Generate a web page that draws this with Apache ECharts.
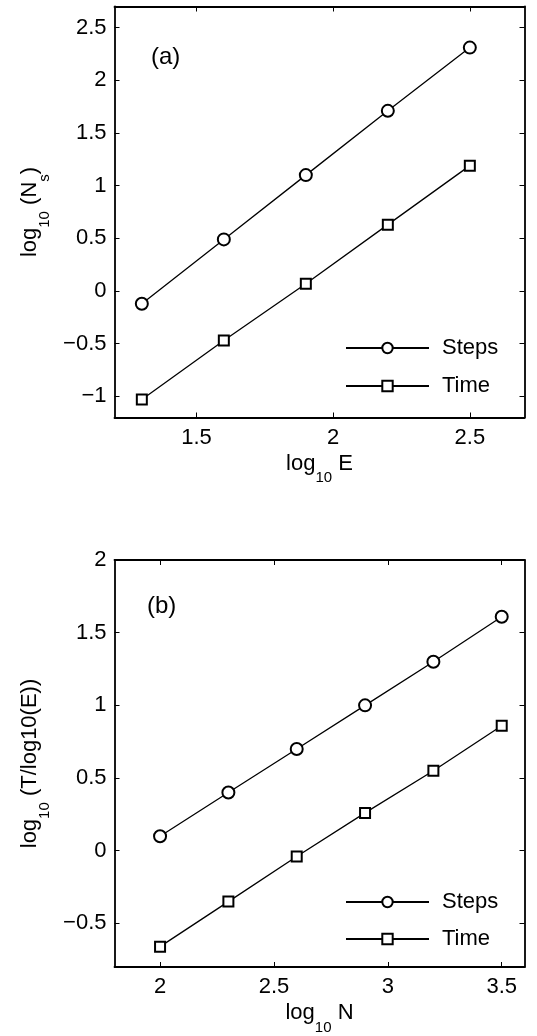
<!DOCTYPE html>
<html><head><meta charset="utf-8">
<script src="https://cdn.jsdelivr.net/npm/echarts@6/dist/echarts.min.js"></script>
<style>html,body{margin:0;padding:0;background:#fff}#c{width:537px;height:1036px}</style>
</head><body><div id="c"></div>
<script>
// Panel (a)
const xA = [1.3, 1.6, 1.9, 2.2, 2.5];
const stepsA = [-0.12, 0.49, 1.10, 1.71, 2.31];
const timeA = [-1.03, -0.47, 0.07, 0.63, 1.19];
const xTicksA = [1.5, 2, 2.5];
const yTicksA = [-1, -0.5, 0, 0.5, 1, 1.5, 2, 2.5];
// Panel (b)
const xB = [2.0, 2.3, 2.6, 2.9, 3.2, 3.5];
const stepsB = [0.10, 0.40, 0.70, 1.00, 1.30, 1.61];
const timeB = [-0.66, -0.35, -0.04, 0.26, 0.55, 0.86];
const xTicksB = [2, 2.5, 3, 3.5];
const yTicksB = [-0.5, 0, 0.5, 1, 1.5, 2];
const seriesNames = ['Steps', 'Time'];

const FONT = 'Liberation Sans, Arial, Helvetica, sans-serif';
const FS = 22;
const rich = {
  n: {fontSize: FS, fontFamily: FONT, color: '#000', lineHeight: 44},
  s: {fontSize: 15, fontFamily: FONT, color: '#000', lineHeight: 15, verticalAlign: 'bottom'}
};
const fmt = v => String(v).replace('-', '\u2212');
const lineAx = {show: true, onZero: false, lineStyle: {color: '#000', width: 1.8}};
const tickStyle = {color: '#000', width: 1};

function xAxes(grid, min, max, ticks, name) {
  return [
    {type: 'value', gridIndex: grid, position: 'bottom', min, max,
     axisLine: lineAx, splitLine: {show: false},
     axisTick: {show: true, inside: true, length: 5, customValues: ticks, lineStyle: tickStyle},
     axisLabel: {show: true, customValues: ticks, formatter: fmt, margin: 9, color: '#000', fontSize: FS, fontFamily: FONT},
     name, nameLocation: 'middle', nameGap: 24, nameTextStyle: {rich}},
    {type: 'value', gridIndex: grid, position: 'top', min, max,
     axisLine: lineAx, splitLine: {show: false},
     axisTick: {show: true, inside: true, length: 5, customValues: ticks, lineStyle: tickStyle},
     axisLabel: {show: false}}
  ];
}
function yAxes(grid, min, max, ticks, name) {
  return [
    {type: 'value', gridIndex: grid, position: 'left', min, max,
     axisLine: lineAx, splitLine: {show: false},
     axisTick: {show: true, inside: true, length: 5, customValues: ticks, lineStyle: tickStyle},
     axisLabel: {show: true, customValues: ticks, formatter: fmt, margin: 8, color: '#000', fontSize: FS, fontFamily: FONT},
     name, nameLocation: 'middle', nameGap: 62, nameTextStyle: {rich}},
    {type: 'value', gridIndex: grid, position: 'right', min, max,
     axisLine: lineAx, splitLine: {show: false},
     axisTick: {show: true, inside: true, length: 5, customValues: ticks, lineStyle: tickStyle},
     axisLabel: {show: false}}
  ];
}

function mkSeries(name, xs, ys, xi, yi, sym, size) {
  return {
    type: 'line', name, xAxisIndex: xi, yAxisIndex: yi,
    data: xs.map((x, i) => [x, ys[i]]),
    symbol: sym, symbolSize: size, showAllSymbol: true,
    lineStyle: {color: '#000', width: 1.3},
    itemStyle: {color: '#000', borderColor: '#000', borderWidth: 1.4},
    animation: false
  };
}

function mkLegend(name, top) {
  return {
    data: [name], left: 345, top, orient: 'vertical', padding: 0,
    itemWidth: 83, itemHeight: 13, selectedMode: false,
    textStyle: {fontSize: FS, fontFamily: FONT, color: '#000', lineHeight: 22, padding: [0, 0, 0, 8]}
  };
}

const chart = echarts.init(document.getElementById('c'), null, {renderer: 'canvas'});
chart.setOption({
  backgroundColor: '#fff',
  animation: false,
  grid: [
    {left: 114.5, right: 12.5, top: 6.5, height: 411, containLabel: false},
    {left: 114.5, right: 12.5, top: 560, height: 411, containLabel: false}
  ],
  xAxis: [
    ...xAxes(0, 1.2, 2.7, xTicksA, '{n|log}{s|10}{n| E}'),
    ...xAxes(1, 1.8, 3.6, xTicksB, '{n|log}{s|10}{n| N}')
  ],
  yAxis: [
    ...yAxes(0, -1.2, 2.7, yTicksA, '{n|log}{s|10}{n| (N}{s|s}{n|)}'),
    ...yAxes(1, -0.8, 2, yTicksB, '{n|log}{s|10}{n| (T/log10(E))}')
  ],
  legend: [
    mkLegend(seriesNames[0], 337),
    mkLegend(seriesNames[1], 375),
    mkLegend(seriesNames[0], 891),
    mkLegend(seriesNames[1], 928)
  ],
  graphic: [
    {type: 'text', left: 151, top: 45, style: {text: '(a)', fontSize: 24, fontFamily: FONT, fill: '#000'}},
    {type: 'text', left: 147, top: 594, style: {text: '(b)', fontSize: 24, fontFamily: FONT, fill: '#000'}}
  ],
  series: [
    mkSeries(seriesNames[0], xA, stepsA, 0, 0, 'emptyCircle', 12),
    mkSeries(seriesNames[1], xA, timeA, 0, 0, 'emptyRect', 10),
    mkSeries(seriesNames[0], xB, stepsB, 2, 2, 'emptyCircle', 12),
    mkSeries(seriesNames[1], xB, timeB, 2, 2, 'emptyRect', 10)
  ]
});
</script></body></html>
